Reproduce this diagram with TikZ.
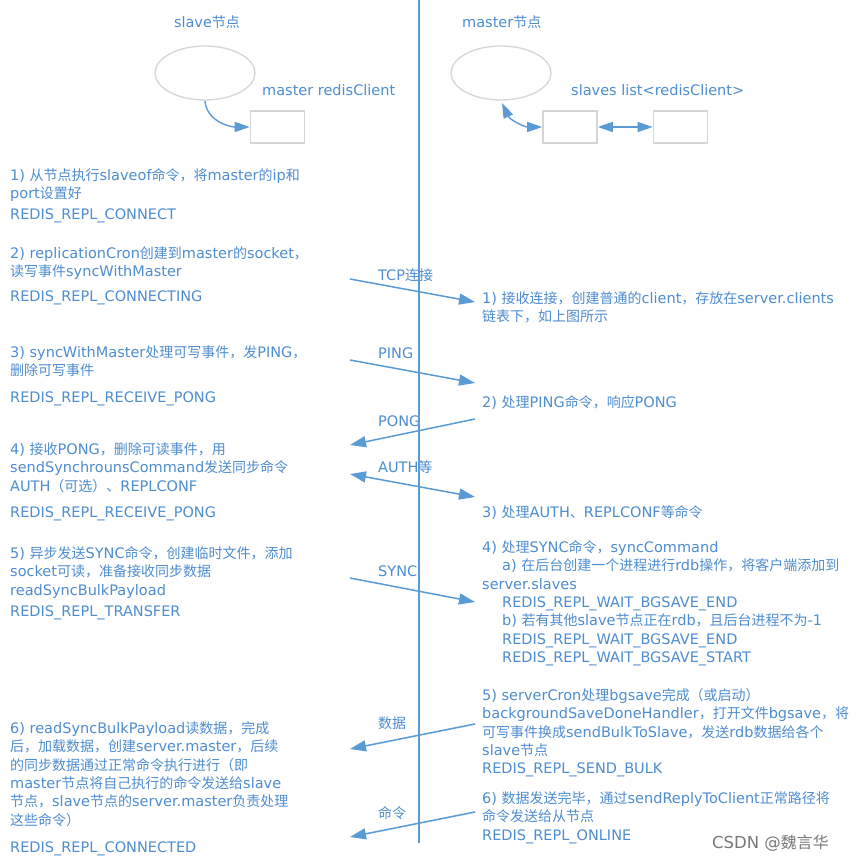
\documentclass[tikz,border=0pt]{standalone}
\usepackage{fontspec}
\setmainfont{DejaVu Sans}
\newfontfamily\cjkf{Noto Sans CJK SC}[Scale=0.965]
\newfontfamily\latinf{DejaVu Sans}
\usetikzlibrary{arrows.meta,shapes.geometric}
\XeTeXinterchartokenstate=1
\newXeTeXintercharclass\CJKcls
\count255="3000 \loop \XeTeXcharclass\count255=\CJKcls \advance\count255 by 1 \ifnum\count255<"3040 \repeat
\count255="4E00 \loop \XeTeXcharclass\count255=\CJKcls \advance\count255 by 1 \ifnum\count255<"A000 \repeat
\count255="FF00 \loop \XeTeXcharclass\count255=\CJKcls \advance\count255 by 1 \ifnum\count255<"FFF0 \repeat
\XeTeXinterchartoks 0 \CJKcls = {\cjkf}
\XeTeXinterchartoks 4095 \CJKcls = {\cjkf}
\XeTeXinterchartoks \CJKcls 0 = {\latinf}
\XeTeXinterchartoks \CJKcls 4095 = {\latinf}
\definecolor{txtblue}{RGB}{78,141,208}
\definecolor{lnblue}{RGB}{91,155,213}
\definecolor{shapegray}{RGB}{214,214,214}
\definecolor{wmgray}{RGB}{120,120,120}
\tikzset{
  txt/.style={inner sep=0pt, anchor=north west, align=left, text=txtblue,
    font=\fontsize{14.5}{18.3}\selectfont},
  lbl/.style={inner sep=0pt, anchor=west, text=txtblue,
    font=\fontsize{14.5}{18.3}\selectfont},
  msg/.style={draw=lnblue, line width=1.5pt, -{Triangle[length=16pt,width=11pt]}},
  msgboth/.style={draw=lnblue, line width=1.5pt, {Triangle[length=16pt,width=11pt]}-{Triangle[length=16pt,width=11pt]}},
  nodeell/.style={draw=shapegray, line width=1.3pt, ellipse, minimum width=100pt, minimum height=54pt, inner sep=0pt},
  clientbox/.style={draw=shapegray, line width=1.6pt, minimum width=54pt, minimum height=32pt, inner sep=0pt},
  curvearrow/.style={draw=lnblue, line width=1.4pt, -{Triangle[length=15pt,width=10pt]}},
  curveboth/.style={draw=lnblue, line width=1.4pt, {Triangle[length=15pt,width=10pt]}-{Triangle[length=15pt,width=10pt]}},
}
\begin{document}
\begin{tikzpicture}[x=1pt,y=-1pt]
\useasboundingbox (0,0) rectangle (865,865);
\fill[white] (0,0) rectangle (865,865);

% ---------- header ----------
\node[lbl, anchor=center] (slavehdr) at (207,22) {slave节点};
\node[lbl] (masterhdr) at (462,22) {master节点};
\node[nodeell] (slaveell) at (205,73) {};
\node[nodeell] (masterell) at (501,73) {};
\node[clientbox] (mrc) at (277.5,127) {};
\node[lbl] (mrclbl) at (262,90) {master redisClient};
\node[clientbox] (sbox1) at (570,127) {};
\node[clientbox] (sbox2) at (680.5,127) {};
\node[lbl] (slbl) at (571,90) {slaves list<redisClient>};
\coordinate (slstart) at (205,101);
\draw[curvearrow] (slstart) to[out=-85,in=180] (mrc.west);
\coordinate (mstart) at (502,103);
\draw[curveboth] (mstart) to[out=-65,in=180] (sbox1.west);
\draw[curveboth] (sbox1.east) -- (sbox2.west);

% ---------- slave column ----------
\node[txt] (l1) at (10,168.5) {1) 从节点执行slaveof命令，将master的ip和\\port设置好};
\node[txt] (l1s) at (10,208.5) {REDIS\_REPL\_CONNECT};
\node[txt] (l2) at (10,246.5) {2) replicationCron创建到master的socket，\\读写事件syncWithMaster};
\node[txt] (l2s) at (10,290.5) {REDIS\_REPL\_CONNECTING};
\node[txt] (l3) at (10,345.5) {3) syncWithMaster处理可写事件，发PING，\\删除可写事件};
\node[txt] (l3s) at (10,391.5) {REDIS\_REPL\_RECEIVE\_PONG};
\node[txt] (l4) at (10,442.5) {4) 接收PONG，删除可读事件，用\\sendSynchrounsCommand发送同步命令\\AUTH（可选）、REPLCONF};
\node[txt] (l4s) at (10,506.5) {REDIS\_REPL\_RECEIVE\_PONG};
\node[txt] (l5) at (10,546.5) {5) 异步发送SYNC命令，创建临时文件，添加\\socket可读，准备接收同步数据\\readSyncBulkPayload};
\node[txt] (l5s) at (10,605.5) {REDIS\_REPL\_TRANSFER};
\node[txt] (l6) at (10,721.5) {6) readSyncBulkPayload读数据，完成\\后，加载数据，创建server.master，后续\\的同步数据通过正常命令执行进行（即\\master节点将自己执行的命令发送给slave\\节点，slave节点的server.master负责处理\\这些命令）};
\node[txt] (l6s) at (10,841.5) {REDIS\_REPL\_CONNECTED};

% ---------- master column ----------
\node[txt] (r1) at (482,291.5) {1) 接收连接，创建普通的client，存放在server.clients\\链表下，如上图所示};
\node[txt] (r2) at (482,395.5) {2) 处理PING命令，响应PONG};
\node[txt] (r3) at (482,505.5) {3) 处理AUTH、REPLCONF等命令};
\node[txt] (r4) at (482,540.5) {4) 处理SYNC命令，syncCommand\\\hspace*{20pt}a) 在后台创建一个进程进行rdb操作，将客户端添加到\\server.slaves\\\hspace*{20pt}REDIS\_REPL\_WAIT\_BGSAVE\_END\\\hspace*{20pt}b) 若有其他slave节点正在rdb，且后台进程不为-1\\\hspace*{20pt}REDIS\_REPL\_WAIT\_BGSAVE\_END\\\hspace*{20pt}REDIS\_REPL\_WAIT\_BGSAVE\_START};
\node[txt] (r5) at (482,688.5) {5) serverCron处理bgsave完成（或启动）\\backgroundSaveDoneHandler，打开文件bgsave，将\\可写事件换成sendBulkToSlave，发送rdb数据给各个\\slave节点\\REDIS\_REPL\_SEND\_BULK};
\node[txt] (r6) at (482,791.5) {6) 数据发送完毕，通过sendReplyToClient正常路径将\\命令发送给从节点\\REDIS\_REPL\_ONLINE};

% ---------- message labels ----------
\node[lbl] (mtcp) at (378,275) {TCP连接};
\node[lbl] (mping) at (378,353) {PING};
\node[lbl] (mpong) at (378,421) {PONG};
\node[lbl] (mauth) at (378,467) {AUTH等};
\node[lbl] (msync) at (378,571) {SYNC};
\node[lbl] (mdata) at (378,723) {数据};
\node[lbl] (mcmd) at (378,813) {命令};

% ---------- message arrows ----------
\coordinate (tcpA) at (350,279);  \coordinate (tcpB) at (475,302);
\coordinate (pingA) at (350,360); \coordinate (pingB) at (475,383);
\coordinate (pongA) at (475,419); \coordinate (pongB) at (350,445);
\coordinate (authA) at (350,474); \coordinate (authB) at (475,497);
\coordinate (syncA) at (350,578); \coordinate (syncB) at (475,602);
\coordinate (dataA) at (475,724); \coordinate (dataB) at (350,749);
\coordinate (cmdA) at (475,812);  \coordinate (cmdB) at (350,837);
\draw[msg] (tcpA) -- (tcpB);
\draw[msg] (pingA) -- (pingB);
\draw[msg] (pongA) -- (pongB);
\draw[msgboth] (authA) -- (authB);
\draw[msg] (syncA) -- (syncB);
\draw[msg] (dataA) -- (dataB);
\draw[msg] (cmdA) -- (cmdB);

% ---------- divider ----------
\coordinate (vtop) at (419,0);
\coordinate (vbot) at (419,843);
\draw[lnblue, line width=1.8pt] (vtop) -- (vbot);

% ---------- watermark ----------
\node[inner sep=0pt, anchor=west, text=wmgray, font=\fontsize{16.5}{18}\selectfont] (wm) at (712,843) {CSDN @魏言华};
\end{tikzpicture}
\end{document}
